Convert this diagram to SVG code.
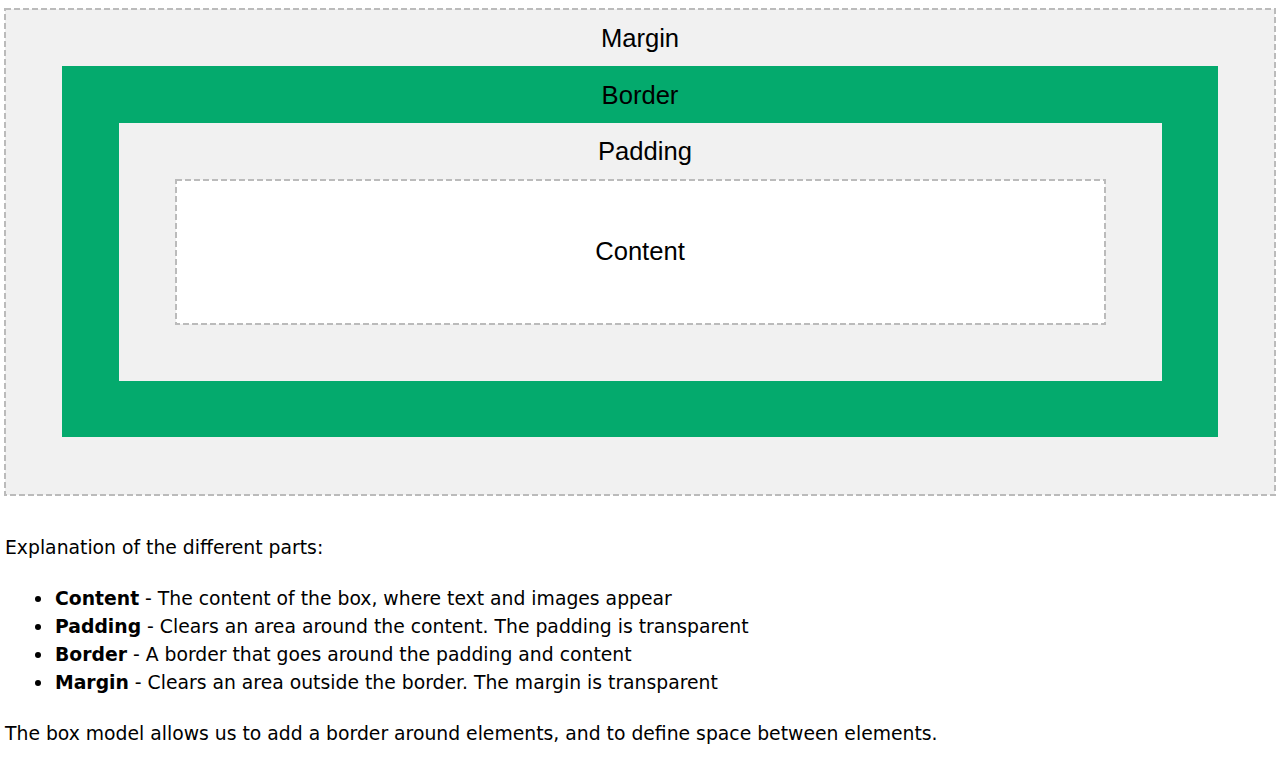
<svg xmlns="http://www.w3.org/2000/svg" width="1282" height="765" viewBox="0 0 1282 765">
<style>
.lbl{font-family:"Liberation Sans",Arial,sans-serif;font-size:25.6px;fill:#000;text-anchor:middle}
.txt{font-family:"DejaVu Sans",Verdana,sans-serif;font-size:18.8px;fill:#000}
.b{font-weight:bold}
.dash{stroke:#bbbbbb;stroke-width:2;stroke-dasharray:6 3}
</style>
<rect width="1282" height="765" fill="#ffffff"/>
<g id="margin">
<rect class="dash" x="5" y="9" width="1270" height="486" fill="#f1f1f1"/>
<text class="lbl" x="640" y="47">Margin</text>
</g>
<g id="border">
<rect x="62" y="66" width="1156" height="371" fill="#04AA6D"/>
<text class="lbl" x="640" y="104">Border</text>
</g>
<g id="padding">
<rect x="119" y="123" width="1043" height="258" fill="#f1f1f1"/>
<text class="lbl" x="645" y="160">Padding</text>
</g>
<g id="content">
<rect class="dash" x="176" y="180" width="929" height="144" fill="#ffffff"/>
<text class="lbl" x="640" y="260">Content</text>
</g>
<g id="connectors"></g>
<g id="explanation">
<text class="txt" x="5" y="554">Explanation of the different parts:</text>
<circle cx="38" cy="599" r="3" fill="#000"/>
<circle cx="38" cy="627" r="3" fill="#000"/>
<circle cx="38" cy="655" r="3" fill="#000"/>
<circle cx="38" cy="683" r="3" fill="#000"/>
<text class="txt" x="55" y="605"><tspan class="b">Content</tspan> - The content of the box, where text and images appear</text>
<text class="txt" x="55" y="633"><tspan class="b">Padding</tspan> - Clears an area around the content. The padding is transparent</text>
<text class="txt" x="55" y="661"><tspan class="b">Border</tspan> - A border that goes around the padding and content</text>
<text class="txt" x="55" y="689"><tspan class="b">Margin</tspan> - Clears an area outside the border. The margin is transparent</text>
<text class="txt" x="5" y="740">The box model allows us to add a border around elements, and to define space between elements.</text>
</g>
</svg>
